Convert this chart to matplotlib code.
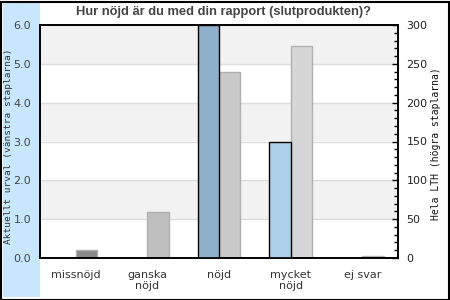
import matplotlib
matplotlib.use("Agg")
import matplotlib.pyplot as plt
from matplotlib.patches import Rectangle
from matplotlib.ticker import MultipleLocator

categories = ["missnöjd", "ganska\nnöjd", "nöjd", "mycket\nnöjd", "ej svar"]
urval = [0, 0, 6.0, 3.0, 0]          # left axis
hela_lth = [10, 59, 240, 273, 2]     # right axis
urval_colors = ["#8fb0cc", "#8fb0cc", "#8fb0cc", "#abcee9", "#8fb0cc"]
lth_colors = ["#8a8a8a", "#bebebe", "#c9c9c9", "#d6d6d6", "#9c9c9c"]

title = "Hur nöjd är du med din rapport (slutprodukten)?"
left_label = "Aktuellt urval (vänstra staplarna)"
right_label = "Hela LTH (högra staplarna)"

fig = plt.figure(figsize=(4.5, 3), dpi=100)
fig.patch.set_facecolor("white")

# light blue strip on the left and outer border
fig.patches.append(Rectangle((3 / 450, 3 / 300), 37 / 450, 294 / 300,
                             transform=fig.transFigure, facecolor="#c8e7fc",
                             edgecolor="none", zorder=-1))
fig.patches.append(Rectangle((0.5 / 450, 0.5 / 300), 448.5 / 450, 298 / 300,
                             transform=fig.transFigure, facecolor="none",
                             edgecolor="black", linewidth=1.5, zorder=5))

ax2 = fig.add_axes([40 / 450, 42 / 300, 358 / 450, 233 / 300])
ax2.yaxis.tick_right()
ax2.yaxis.set_label_position("right")
ax = fig.add_axes([40 / 450, 42 / 300, 358 / 450, 233 / 300], sharex=ax2)
ax.patch.set_visible(False)

# alternating bands + grid (drawn on the lower axes, right-axis units)
for lo in [50, 150, 250]:
    ax2.axhspan(lo, lo + 50, color="#f2f2f2", zorder=0, lw=0)
for y in range(50, 300, 50):
    ax2.axhline(y, color="#dcdcdc", lw=1, zorder=0.5)

x = list(range(len(categories)))
w = 0.3
ax2.bar(x, hela_lth, width=w, align="edge", color=lth_colors,
        edgecolor="#b0b0b0", linewidth=1, zorder=2)
ax.bar([i - w for i in x], urval, width=w, align="edge", color=urval_colors,
       edgecolor="black", linewidth=1, zorder=2)

ax.set_xlim(-0.5, 4.5)
ax.set_ylim(0, 6)
ax2.set_ylim(0, 300)
ax.set_yticks([0, 1, 2, 3, 4, 5, 6])
ax.set_yticklabels([f"{v:.1f}" for v in range(7)])
ax2.set_xticks(x)
ax2.set_xticklabels(categories, fontsize=8, color="#333333", linespacing=1.1)
ax2.tick_params(axis="x", length=0, pad=9)
ax.tick_params(axis="x", length=0, labelbottom=False)
ax.tick_params(axis="y", length=0, labelsize=8, labelcolor="#444444", pad=6.5)

ax2.yaxis.set_major_locator(MultipleLocator(50))
ax2.yaxis.set_minor_locator(MultipleLocator(10))
ax2.tick_params(axis="y", which="major", direction="in", length=4, width=1,
                labelsize=8, labelcolor="#222222", pad=6)
ax2.tick_params(axis="y", which="minor", direction="in", length=3, width=1)

for a in (ax, ax2):
    for s in a.spines.values():
        s.set_linewidth(1.2)
        s.set_color("black")

fig.text(224 / 450, 1 - 12 / 300, title, ha="center", va="center",
         fontsize=9.3, fontweight="bold", color="#444444",
         family="Liberation Sans")
fig.text(9 / 450, 1 - 146 / 300, left_label, rotation=90, ha="center",
         va="center", fontsize=6.8, family="DejaVu Sans Mono", color="#333333")
fig.text(436 / 450, 1 - 144 / 300, right_label, rotation=90, ha="center",
         va="center", fontsize=7, family="DejaVu Sans Mono", color="#111111")

fig.savefig("out.png", dpi=100)
